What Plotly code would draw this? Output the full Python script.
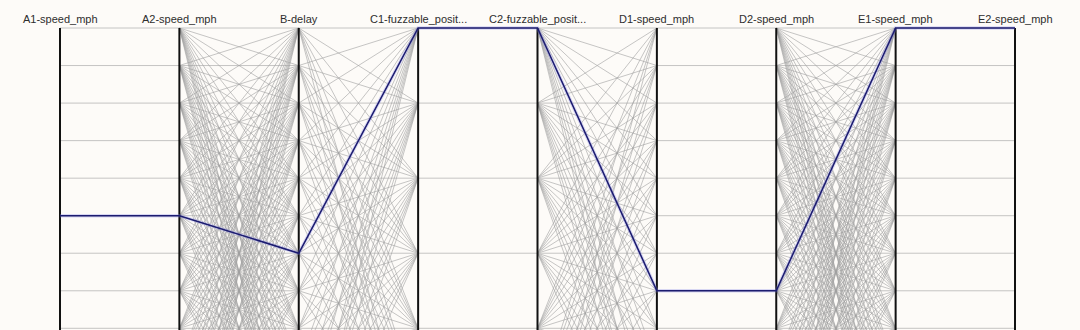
import plotly.graph_objects as go

# ---- data ----
axis_labels = ["A1-speed_mph", "A2-speed_mph", "B-delay", "C1-fuzzable_posit...",
               "C2-fuzzable_posit...", "D1-speed_mph", "D2-speed_mph",
               "E1-speed_mph", "E2-speed_mph"]
speed_levels = [0, 1, 2, 3, 4, 5, 6, 7, 8, 9, 10, 11, 12, 13]
delay_levels = [0, 1, 2, 3, 4, 5, 6, 7, 8, 9, 10, 11, 12, 13]
fuzz_levels = [0, 2, 4, 6, 8, 10, 12]
axis_levels = [speed_levels, speed_levels, delay_levels, fuzz_levels, fuzz_levels,
               speed_levels, speed_levels, speed_levels, speed_levels]
# pairs of adjacent axes that always share the same value (A1=A2, C1=C2, D1=D2, E1=E2)
linked_pairs = [True, False, False, True, False, True, False, True]
selected_path = [5, 5, 6, 0, 0, 7, 7, 0, 0]

# ---- build segments ----
gx, gy = [], []
for i, linked in enumerate(linked_pairs):
    left, right = axis_levels[i], axis_levels[i + 1]
    if linked:
        for v in left:
            gx += [i, i + 1, None]
            gy += [v, v, None]
    else:
        for a in left:
            for b in right:
                gx += [i, i + 1, None]
                gy += [a, b, None]

ax_x, ax_y = [], []
for i in range(len(axis_labels)):
    ax_x += [i, i, None]
    ax_y += [0, 30, None]

fig = go.Figure()
fig.add_trace(go.Scatter(x=gx, y=gy, mode="lines",
                         line=dict(color="rgba(160,160,160,0.6)", width=1),
                         hoverinfo="skip", showlegend=False))
fig.add_trace(go.Scatter(x=ax_x, y=ax_y, mode="lines",
                         line=dict(color="#111111", width=2),
                         hoverinfo="skip", showlegend=False))
fig.add_trace(go.Scatter(x=list(range(len(axis_labels))), y=selected_path, mode="lines",
                         line=dict(color="rgba(130,130,230,0.3)", width=3.5),
                         hoverinfo="skip", showlegend=False))
fig.add_trace(go.Scatter(x=list(range(len(axis_labels))), y=selected_path, mode="lines",
                         line=dict(color="#1c1c70", width=1.5),
                         hoverinfo="skip", showlegend=False))

for i, lab in enumerate(axis_labels):
    fig.add_annotation(x=i, y=1 - 19 / 330, xref="x", yref="paper", text=lab,
                       showarrow=False, xanchor="center", yanchor="middle",
                       font=dict(family="Liberation Sans, Arial, sans-serif",
                                 size=11, color="#2e2e2e"))

fig.update_layout(
    width=1080, height=330,
    margin=dict(l=0, r=0, t=0, b=0),
    paper_bgcolor="#fdfbf8", plot_bgcolor="#fdfbf8",
    xaxis=dict(range=[-0.50262, 8.5445], visible=False, fixedrange=True),
    yaxis=dict(range=[8.045, -0.7459], visible=False, fixedrange=True),
)
fig.write_html("out.html")
